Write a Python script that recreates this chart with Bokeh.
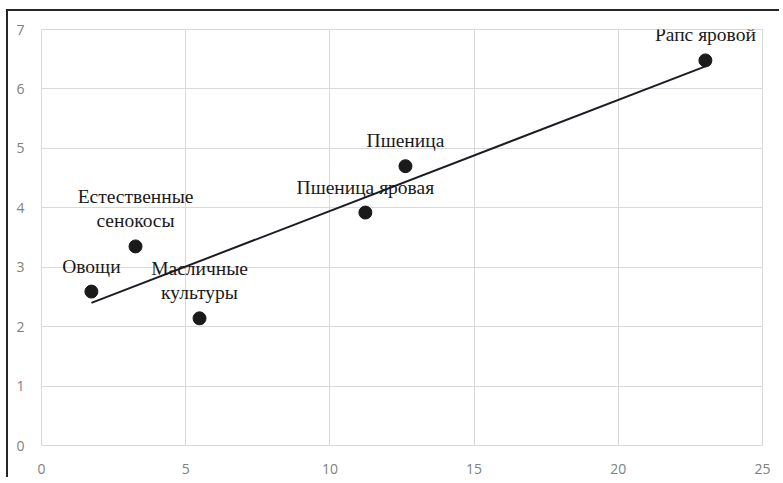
import numpy as np
from bokeh.plotting import figure
from bokeh.models import ColumnDataSource, FixedTicker
from bokeh.core.properties import value
from bokeh.embed import file_html
from bokeh.resources import INLINE

# data
names = ["Овощи", "Естественные\nсенокосы", "Масличные\nкультуры",
         "Пшеница яровая", "Пшеница", "Рапс яровой"]
x_vals = [1.73, 3.26, 5.48, 11.23, 12.62, 23.02]
y_vals = [2.59, 3.35, 2.14, 3.92, 4.70, 6.48]
x_ticks = [0, 5, 10, 15, 20, 25]
y_ticks = [0, 1, 2, 3, 4, 5, 6, 7]

p = figure(width=773, height=468, output_backend="svg", toolbar_location=None,
           x_range=(0, 25), y_range=(0, 7),
           min_border_left=33, min_border_right=19, min_border_top=18, min_border_bottom=34)
p.styles = {"margin-left": "6px", "margin-top": "9px",
            "border-top": "2px solid #262626", "border-left": "2px solid #262626"}
p.background_fill_color = "white"
p.border_fill_color = "white"
p.outline_line_color = "#d9d9d9"

for ax, ticks in ((p.xaxis, x_ticks), (p.yaxis, y_ticks)):
    ax.ticker = FixedTicker(ticks=ticks)
    ax.axis_line_color = None
    ax.major_tick_line_color = None
    ax.minor_tick_line_color = None
    ax.major_label_text_font = "Open Sans"
    ax.major_label_text_font_size = "14px"
    ax.major_label_text_color = "#808080"
p.xaxis.major_label_standoff = 12
p.yaxis.major_label_standoff = 11

p.xgrid.ticker = FixedTicker(ticks=x_ticks)
p.ygrid.ticker = FixedTicker(ticks=y_ticks)
p.grid.grid_line_color = "#d9d9d9"
p.grid.grid_line_width = 1

# trend line (least squares fit of the points)
k, b = np.polyfit(x_vals, y_vals, 1)
tx = [min(x_vals), max(x_vals)]
ty = [k * v + b for v in tx]
p.line(tx, ty, line_color="#1c1c24", line_width=2)

src = ColumnDataSource(dict(x=x_vals, y=y_vals, name=names))
p.scatter("x", "y", source=src, size=13, fill_color="#1a1a1a", line_color="#1a1a1a")
p.text("x", "y", text="name", source=src, text_align="center", text_baseline="bottom",
       y_offset=-15, text_font=value("Liberation Serif"), text_font_size="19.5px",
       text_color="#1a1a1a", text_line_height=1.15)

open("out.html", "w").write(file_html(p, INLINE))
